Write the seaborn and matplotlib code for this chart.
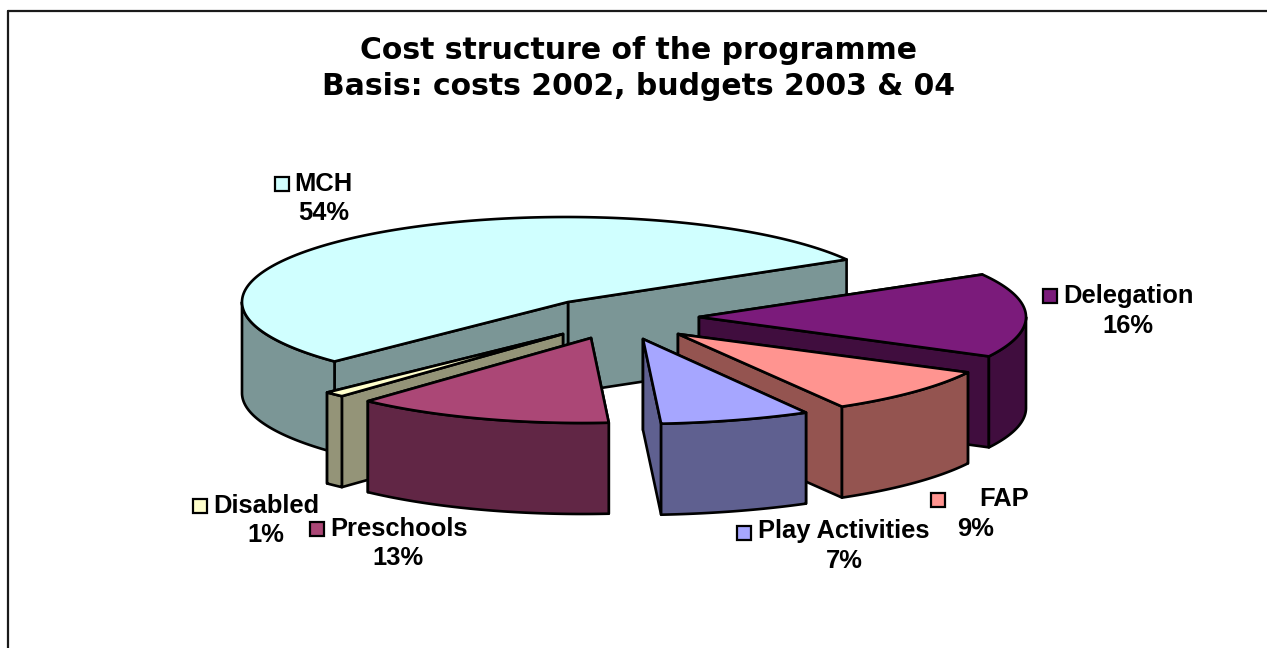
import numpy as np
import matplotlib
matplotlib.use("Agg")
import matplotlib.pyplot as plt
from matplotlib.patches import Rectangle
import seaborn as sns

# Programme cost shares, percent, in the order the slices run around the pie
categories = ["MCH", "Disabled", "Preschools", "Play Activities", "FAP", "Delegation"]
shares = [54, 1, 13, 7, 9, 16]

# Slice colours: upper surface and shaded walls
top_colours = sns.color_palette(["#D0FFFF", "#FFFFCC", "#AB4776", "#A6A6FF", "#FF9490", "#7B1B7B"])
wall_colours = sns.color_palette(["#7B9696", "#949478", "#612645", "#5F6090", "#945450", "#400D3E"])

# Pie projection
START_ANGLE = 30.0
SEMI_X, SEMI_Y = 326.0, 85.0
DEPTH = 91.0

# Exploded placement of each slice: rim centre, apex, horizontal rim radius
rim_centres = [(566, 302), (560, 333), (582, 338), (632, 339), (679, 333), (700, 317)]
apexes = [(568, 302), (563, 334), (591, 338), (643, 339), (678, 334), (699, 317)]
rim_radii = [324.0, SEMI_X, 320.0, 348.0, SEMI_X, SEMI_X]

# Label placement: key left/top, name left/centre y, percent centre
key_pos = [(275, 177), (193, 499), (310, 522), (737, 526), (931, 493), (1043, 289)]
name_pos = [(294, 184), (213, 506), (330, 529), (758, 531), (979, 499), (1063, 296)]
pct_pos = [(324, 213), (266, 535), (398, 558), (844, 561), (976, 529), (1128, 326)]

# Painter's order: rear slices first
draw_order = [0, 1, 2, 5, 4, 3]

TITLE = "Cost structure of the programme\nBasis: costs 2002, budgets 2003 & 04"

sns.set_theme(style="white")
plt.rcParams["font.family"] = ["Liberation Sans", "DejaVu Sans"]

fig = plt.figure(figsize=(12.67, 6.48), dpi=100, facecolor="white")
ax = fig.add_axes([0, 0, 1, 1])
ax.set_xlim(0, 1267)
ax.set_ylim(648, 0)
ax.axis("off")

# Chart area border, cut off on the right and at the bottom
ax.plot([8, 8], [648, 11], color="#1a1a1a", lw=1.6, solid_joinstyle="miter")
ax.plot([8, 1267], [11, 11], color="#1a1a1a", lw=1.6, solid_joinstyle="miter")

edges = START_ANGLE + np.cumsum([0] + shares) * 3.6


def rim(i, t):
    """Screen position of angle t (degrees) on the rim of slice i."""
    r = np.radians(t)
    cx, cy = rim_centres[i]
    return cx + rim_radii[i] * np.cos(r), cy - SEMI_Y * np.sin(r)


def face(xs, ys, colour, z):
    ax.fill(xs, ys, facecolor=colour, edgecolor="black", lw=1.9,
            joinstyle="round", zorder=z)


for z, i in enumerate(draw_order):
    t0, t1 = edges[i], edges[i + 1]
    ax0, ay0 = apexes[i]
    base = 10 + z * 10

    # Cut walls, the one further back first
    for k, t in enumerate(sorted([t0, t1], key=lambda a: -np.sin(np.radians(a)))):
        x, y = rim(i, t)
        face([ax0, x, x, ax0], [ay0, y, y + DEPTH, ay0 + DEPTH], wall_colours[i], base + k)

    # Outer wall: only the part of the rim facing the viewer
    turns = np.array([0.0, 360.0, 720.0])
    for low, high in [(180.0 + s, 360.0 + s) for s in turns]:
        a, b = max(t0, low), min(t1, high)
        if a < b:
            ts = np.linspace(a, b, 80)
            x, y = rim(i, ts)
            face(np.r_[x, x[::-1]], np.r_[y, y[::-1] + DEPTH], wall_colours[i], base + 3)

    # Upper surface
    ts = np.linspace(t0, t1, 200)
    x, y = rim(i, ts)
    face(np.r_[ax0, x], np.r_[ay0, y], top_colours[i], base + 4)

# Data labels with legend keys
for i, name in enumerate(categories):
    kx, ky = key_pos[i]
    ax.add_patch(Rectangle((kx, ky), 14, 14, facecolor=top_colours[i], edgecolor="black",
                           lw=1.6, zorder=200))
    nx, ny = name_pos[i]
    ax.text(nx, ny, name, fontsize=18.4, fontweight="bold", color="black",
            ha="left", va="center", zorder=200)
    px, py = pct_pos[i]
    ax.text(px, py, f"{shares[i]}%", fontsize=18.4, fontweight="bold", color="black",
            ha="center", va="center", zorder=200)

ax.text(639, 68.5, TITLE, family=["DejaVu Sans"], fontsize=21.5, fontweight="bold",
        color="black", ha="center", va="center", linespacing=1.29, zorder=200)

fig.savefig("out.png", dpi=100, facecolor="white")
